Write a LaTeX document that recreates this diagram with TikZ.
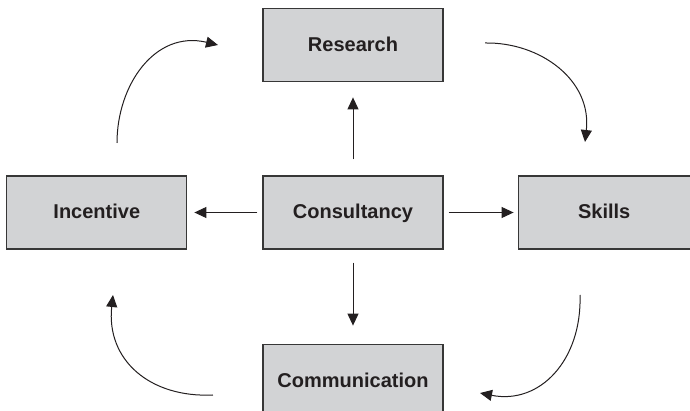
\documentclass[tikz,border=0pt]{standalone}
\usepackage{fontspec}
\setmainfont{Liberation Sans}
\usepackage{xcolor}
\usepackage{tikz}
\usetikzlibrary{arrows.meta,positioning}

\definecolor{boxgray}{RGB}{210,211,213}
\definecolor{edgegray}{RGB}{55,55,55}
\definecolor{inkgray}{RGB}{35,31,32}

\begin{document}
\begin{tikzpicture}[
  x=1pt, y=1pt,
  font=\bfseries\fontsize{20}{24}\selectfont,
  box/.style={draw=edgegray, fill=boxgray, line width=1.2pt, text=inkgray, minimum width=180pt, minimum height=73pt, inner sep=0pt, text height=17pt, text depth=4.2pt},
  arrow/.style={-{Triangle[length=12pt,width=11pt]}, line width=1pt, draw=inkgray},
  loop/.style={-{Triangle[length=12pt,width=11pt]}, line width=1pt, draw=inkgray}
]
  \useasboundingbox (-353,-198.5) rectangle (337,212.5);
  \clip (-353,-198.5) rectangle (337,212.5);

  \node[box] (c_cons) {Consultancy};
  \node[box, above=93pt of c_cons] (c_res) {Research};
  \node[box, left=75pt of c_cons] (c_inc) {Incentive};
  \node[box, right=74pt of c_cons, minimum width=172pt] (c_skl) {Skills};
  \node[box, below=94pt of c_cons] (c_com) {Communication};

  \draw[arrow, shorten <=16pt, shorten >=15pt] (c_cons) -- (c_res);
  \draw[arrow, shorten <=5pt, shorten >=7pt] (c_cons) -- (c_inc);
  \draw[arrow, shorten <=5pt, shorten >=4pt] (c_cons) -- (c_skl);
  \draw[arrow, shorten <=13pt, shorten >=18pt] (c_cons) -- (c_com);

  \coordinate (tl_a) at (-236,69.5);
  \coordinate (tl_b) at (-135,167.5);
  \coordinate (tr_a) at (132,169.5);
  \coordinate (tr_b) at (232,70.5);
  \coordinate (br_a) at (227,-82.5);
  \coordinate (br_b) at (127,-180.5);
  \coordinate (bl_a) at (-140,-182.5);
  \coordinate (bl_b) at (-240,-82.5);

  \draw[loop] (tl_a) .. controls (-236,127.5) and (-198,182.5) .. (tl_b);
  \draw[loop] (tr_a) .. controls (187,170.5) and (239,132.5) .. (tr_b);
  \draw[loop] (br_a) .. controls (229,-147.5) and (187,-192.5) .. (br_b);
  \draw[loop] (bl_a) .. controls (-203,-185.5) and (-247,-147.5) .. (bl_b);
\end{tikzpicture}
\end{document}
